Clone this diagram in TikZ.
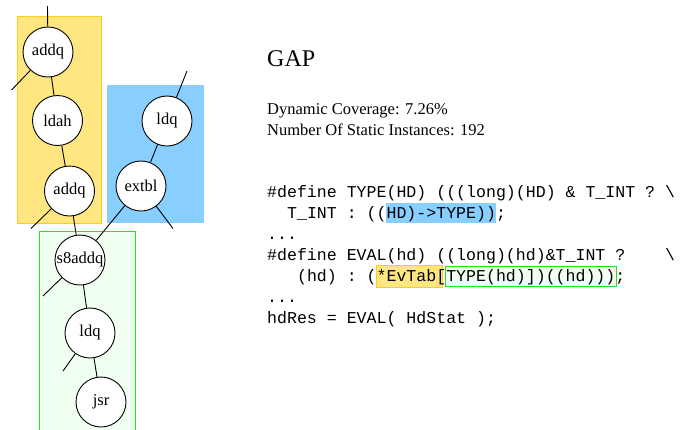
\documentclass[tikz,border=0pt]{standalone}
\usepackage{fontspec}
\setmainfont{Liberation Serif}
\newfontfamily\codefont{Liberation Mono}

\definecolor{grpyellow}{RGB}{255,230,128}
\definecolor{grpyellowline}{RGB}{250,205,30}
\definecolor{grpblue}{RGB}{136,206,255}
\definecolor{grpgreen}{RGB}{240,255,240}
\definecolor{grpgreenline}{RGB}{30,230,30}

\begin{document}
\begin{tikzpicture}[x=1pt,y=-1pt,
  op/.style={circle, draw=black, fill=white, line width=0.9pt, minimum size=50pt,
    inner sep=0pt, font=\fontsize{16.5}{18}\selectfont},
  link/.style={draw=black, line width=0.9pt},
  codeline/.style={anchor=base west, inner sep=0pt, font=\codefont\fontsize{16.58}{18}\selectfont},
  textline/.style={anchor=base west, inner sep=0pt, font=\fontsize{16.5}{18}\selectfont}]

\useasboundingbox (0,0) rectangle (695,429);

% instruction groups
\fill[grpyellow, draw=grpyellowline, line width=1pt] (17.5,16.5) rectangle (101.5,223.5);
\fill[grpblue] (107,85) rectangle (204,223);
\fill[grpgreen, draw=grpgreenline, line width=1pt] (39.5,231.5) rectangle (135.5,436);

% instruction nodes
\node[op] (a1) at (48,52) {addq};
\node[op] (ldah) at (57.5,120.5) {ldah};
\node[op] (a2) at (69.5,191) {addq};
\node[op] (ldqA) at (167,121) {ldq};
\node[op] (ext) at (141,186) {extbl};
\node[op] (s8) at (80,260) {s8addq};
\node[op] (ldqB) at (90,333) {ldq};
\node[op] (jsr) at (101,402) {jsr};

% loose ends
\coordinate (t1) at (47.5,6);
\coordinate (l1) at (11.5,90);
\coordinate (l2) at (31,228.5);
\coordinate (t2) at (187,71);
\coordinate (r2) at (173,228.5);
\coordinate (l3) at (43,296);
\coordinate (l4) at (63,371);

% dependences
\path[link] (t1) -- (a1);
\path[link] (a1) -- (l1);
\path[link] (a1) -- (ldah);
\path[link] (ldah) -- (a2);
\path[link] (a2) -- (l2);
\path[link] (a2) -- (s8);
\path[link] (t2) -- (ldqA);
\path[link] (ldqA) -- (ext);
\path[link] (ext) -- (s8);
\path[link] (ext) -- (r2);
\path[link] (s8) -- (l3);
\path[link] (s8) -- (ldqB);
\path[link] (ldqB) -- (l4);
\path[link] (ldqB) -- (jsr);

% heading and statistics
\node[anchor=base west, inner sep=0pt, font=\fontsize{24}{28}\selectfont] (title) at (267,66) {GAP};
\node[textline] (cov) at (267,114) {Dynamic Coverage: 7.26\%};
\node[textline] (inst) at (267,135) {Number Of Static Instances: 192};

% source highlights
\fill[grpblue] (386,203) rectangle (496,223);
\fill[grpyellow, draw=grpyellowline, line width=1pt] (376.5,265.5) rectangle (442.5,287.5);
\fill[grpgreen, draw=grpgreenline, line width=1pt] (445.5,266.5) rectangle (616.5,286.5);

% source code
\node[codeline] (c1) at (267,197) {\#define~TYPE(HD)~(((long)(HD)~\&~T\_INT~?~\textbackslash};
\node[codeline] (c2) at (267,218) {~~T\_INT~:~((HD)->TYPE));};
\node[codeline] (c3) at (267,239) {...};
\node[codeline] (c4) at (267,260) {\#define~EVAL(hd)~((long)(hd)\&T\_INT~?~~~~\textbackslash};
\node[codeline] (c5) at (267,281) {~~~(hd)~:~(*EvTab[TYPE(hd)])((hd)));};
\node[codeline] (c6) at (267,302) {...};
\node[codeline] (c7) at (267,323) {hdRes~=~EVAL(~HdStat~);};
\end{tikzpicture}
\end{document}
